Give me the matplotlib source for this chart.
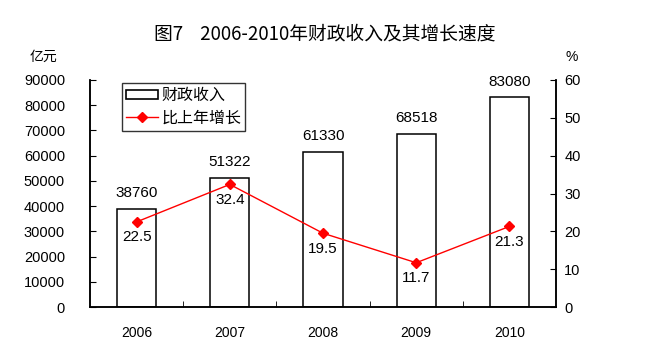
import matplotlib
matplotlib.use("Agg")
import matplotlib.pyplot as plt
from matplotlib.lines import Line2D
from matplotlib.patches import Patch

plt.rcParams['font.family'] = ['Liberation Sans', 'Noto Sans CJK SC', 'DejaVu Sans']

years = ['2006', '2007', '2008', '2009', '2010']
revenue = [38760, 51322, 61330, 68518, 83080]
growth = [22.5, 32.4, 19.5, 11.7, 21.3]

fig = plt.figure(figsize=(6.59, 3.56), dpi=100)
ax = fig.add_axes([0.1366, 0.1376, 0.7071, 0.6377])
x = list(range(len(years)))
bars = ax.bar(x, revenue, width=0.42, facecolor='white', edgecolor='black', linewidth=1.1, zorder=2)
ax.set_xlim(-0.5, 4.5)
ax.set_ylim(0, 90000)
ax.set_yticks(range(0, 90001, 10000))
ax.set_xticks(x)
ax.set_xticklabels(years, fontsize=10)
ax.set_xticks([0.5, 1.5, 2.5, 3.5], minor=True)
ax.tick_params(axis='x', which='major', length=0, pad=14)
ax.tick_params(axis='x', which='minor', direction='in', length=4)
ax.tick_params(axis='y', direction='in', length=4, labelsize=10.5, pad=18)
for i, v in enumerate(revenue):
    ax.text(i, v + 3500, str(v), ha='center', va='bottom', fontsize=11)
ax.spines['top'].set_visible(False)

ax2 = ax.twinx()
ax2.set_ylim(0, 60)
ax2.set_yticks(range(0, 61, 10))
ax2.plot(x, growth, color='red', marker='D', markersize=5, linewidth=1, zorder=3)
ax2.tick_params(axis='y', direction='in', length=4, labelsize=10.5, pad=6)
ax2.spines['top'].set_visible(False)
for i, v in enumerate(growth):
    ax2.text(i, v - 2.2, f'{v}', ha='center', va='top', fontsize=11)

for a in (ax, ax2):
    for s in a.spines.values():
        s.set_linewidth(1.1)

handles = [Patch(facecolor='white', edgecolor='black', linewidth=1.2),
           Line2D([0], [0], color='red', marker='D', markersize=5, linewidth=1)]
leg = ax.legend(handles, ['财政收入', '比上年增长'], loc='upper left',
                bbox_to_anchor=(0.0687, 0.987), borderaxespad=0, fancybox=False,
                edgecolor='#333333', framealpha=1, handlelength=2.0, handleheight=0.5,
                borderpad=0.25, labelspacing=0.35, handletextpad=0.2,
                prop={'family': ['Noto Sans CJK SC'], 'size': 11.5})
leg.get_frame().set_linewidth(1)

fig.text(0.4925, 0.905, '图7    2006-2010年财政收入及其增长速度', ha='center', va='center',
         fontsize=13.5, fontweight='medium', family=['Noto Sans CJK SC'])
fig.text(0.066, 0.84, '亿元', ha='center', va='center', fontsize=10, family=['Noto Sans CJK SC'])
fig.text(0.867, 0.84, '%', ha='center', va='center', fontsize=10)

fig.savefig('out.png', dpi=100)
